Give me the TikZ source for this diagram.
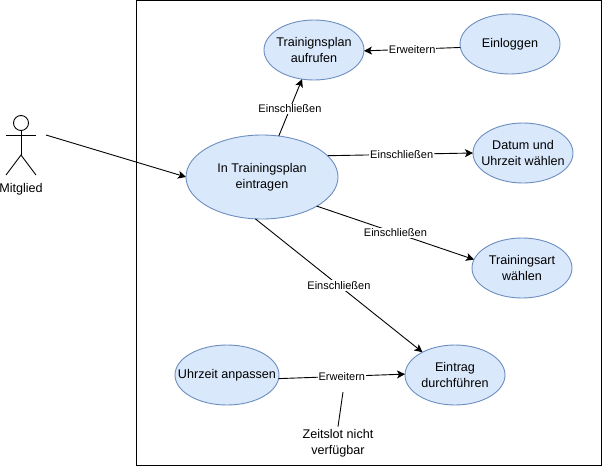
\documentclass[tikz,border=0pt]{standalone}
\usepackage{fontspec}
\setmainfont{Liberation Sans}
\usetikzlibrary{shapes.geometric,arrows.meta}
\definecolor{ucfill}{HTML}{DAE8FC}
\definecolor{ucline}{HTML}{6C8EBF}
\tikzset{
    usecase/.style={ellipse,draw=ucline,fill=ucfill,inner ysep=0,inner xsep=-20,outer sep=0,
        minimum width=100,minimum height=60,align=center,font=\fontsize{12.6}{16}\selectfont},
    tag/.style={fill=white,inner sep=1,font=\fontsize{11}{13}\selectfont},
    plaintext/.style={align=center,inner sep=2,font=\fontsize{12.6}{16}\selectfont},
    arrow/.style={-{Stealth[length=8,width=8,inset=2]}},
}
\begin{document}
\begin{tikzpicture}[x=1pt,y=-1pt,line width=0.9pt]
    \useasboundingbox (0,0) rectangle (602,466);
    \draw (136.5,0.5) rectangle (601.5,465.5);

    % actor
    \node[circle,draw,inner sep=0,minimum size=15] (head) at (21,123) {};
    \coordinate (hip) at (21,155);
    \coordinate (armleft) at (6,135);
    \coordinate (armright) at (36,135);
    \coordinate (footleft) at (6,175);
    \coordinate (footright) at (36,175);
    \draw (head.south) -- (hip);
    \draw (armleft) -- (armright);
    \draw (footleft) -- (hip) -- (footright);
    \node[plaintext] (mitglied) at (21,189) {Mitglied};

    \node[usecase] (aufrufen) at (314,50) {Trainignsplan\\aufrufen};
    \node[usecase] (einloggen) at (510,44) {Einloggen};
    \node[usecase] (datum) at (523,153) {Datum und\\Uhrzeit wählen};
    \node[usecase,minimum width=152,minimum height=84] (eintragen) at (262,177) {In Trainingsplan\\eintragen};
    \node[usecase] (art) at (522,268) {Trainingsart\\wählen};
    \node[usecase] (eintrag) at (455,375) {Eintrag\\durchführen};
    \node[usecase,minimum width=104] (anpassen) at (227,375) {Uhrzeit anpassen};
    \node[plaintext] (zeitslot) at (338,443) {Zeitslot nicht\\verfügbar};

    \coordinate (start) at (46,135);
    \coordinate (hinweis) at (343,392);

    \draw[arrow] (start) -- (eintragen.west);
    \draw[arrow] (eintragen) -- node[tag,pos=0.48] (t1) {Einschließen} (aufrufen);
    \draw[arrow] (einloggen.184) -- node[tag] (t2) {Erweitern} (aufrufen.-1);
    \draw[arrow] (eintragen.18) -- node[tag,pos=0.51] (t3) {Einschließen} (datum.west);
    \draw[arrow] (eintragen.-28) -- node[tag,pos=0.5] (t4) {Einschließen} (art.170);
    \draw[arrow] (eintragen.261) -- node[tag,pos=0.5] (t5) {Einschließen} (eintrag.145);
    \draw[arrow] (anpassen.-4) -- node[tag,pos=0.5] (t6) {Erweitern} (eintrag.179);
    \draw (zeitslot.north) -- (hinweis);
\end{tikzpicture}
\end{document}
